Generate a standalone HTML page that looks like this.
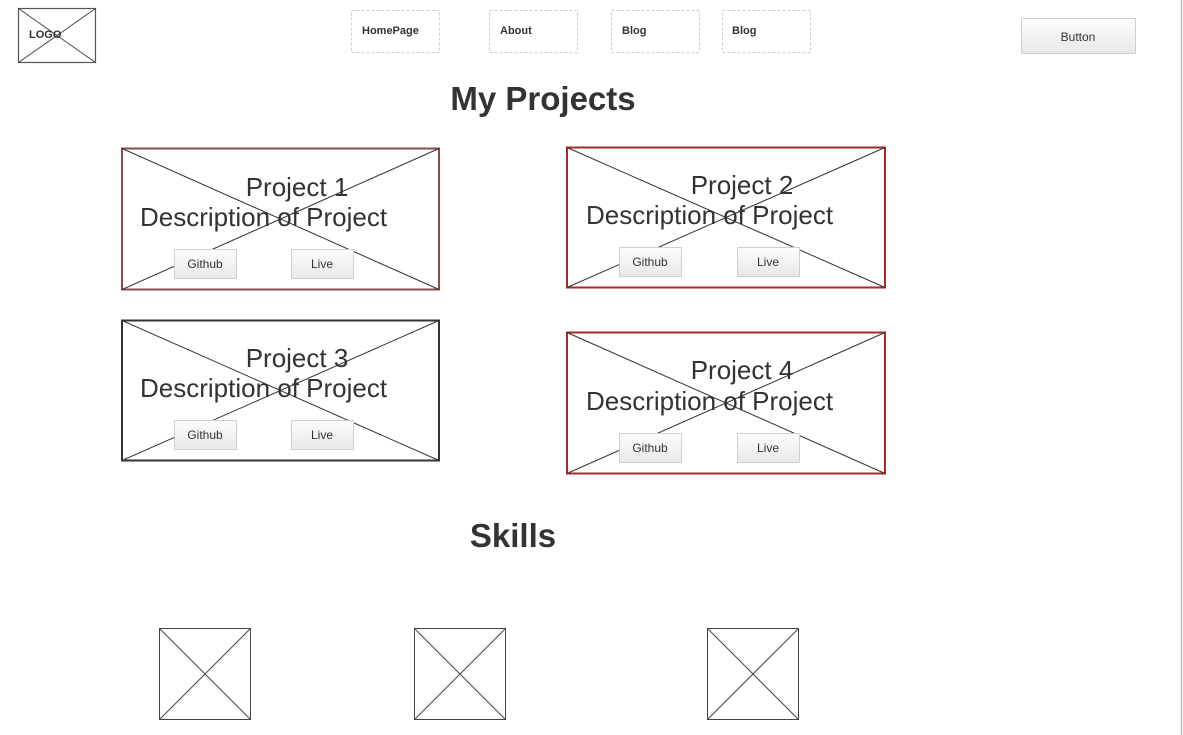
<!DOCTYPE html>
<html><head><meta charset="utf-8"><style>
html,body{margin:0;padding:0;background:#fff;width:1183px;height:735px;overflow:hidden}
svg{display:block}
text{font-family:"Liberation Sans",sans-serif;fill:#333}
</style></head><body>
<svg width="1183" height="735" viewBox="0 0 1183 735" xmlns="http://www.w3.org/2000/svg">
<defs>
<linearGradient id="bg" x1="0" y1="0" x2="0" y2="1"><stop offset="0" stop-color="#fdfdfd"/><stop offset="1" stop-color="#e8e8e8"/></linearGradient>
</defs>
<line x1="1181.5" y1="0" x2="1181.5" y2="735" stroke="#bbb" stroke-width="1.5"/>
<rect x="18.5" y="8.5" width="77" height="54" fill="#fff" stroke="#555" stroke-width="1.2"/>
<line x1="18.5" y1="8.5" x2="95.5" y2="62.5" stroke="#444"/>
<line x1="95.5" y1="8.5" x2="18.5" y2="62.5" stroke="#444"/>
<text x="29" y="38" font-size="11" font-weight="bold">LOGO</text>
<g fill="#fff" stroke="#ccc" stroke-dasharray="3,2">
<rect x="351.5" y="10.5" width="88" height="42"/>
<rect x="489.5" y="10.5" width="88" height="42"/>
<rect x="611.5" y="10.5" width="88" height="42"/>
<rect x="722.5" y="10.5" width="88" height="42"/>
</g>
<g font-size="11" font-weight="bold">
<text x="362" y="34">HomePage</text>
<text x="500" y="34">About</text>
<text x="622" y="34">Blog</text>
<text x="732" y="34">Blog</text>
</g>
<rect x="1021.5" y="18.5" width="114" height="35" fill="url(#bg)" stroke="#d0d0d0"/>
<text x="1078" y="41" font-size="12" text-anchor="middle" fill="#111">Button</text>
<text x="543" y="110" font-size="33" font-weight="bold" text-anchor="middle">My Projects</text>
<text x="513" y="547" font-size="33" font-weight="bold" text-anchor="middle">Skills</text>

<g>
<rect x="122" y="148.5" width="317" height="141" fill="#fff" stroke="#8a4a4a" stroke-width="2"/>
<line x1="122" y1="148.5" x2="439" y2="289.5" stroke="#333"/><line x1="439" y1="148.5" x2="122" y2="289.5" stroke="#333"/>
<text x="297" y="196" font-size="26" text-anchor="middle">Project 1</text>
<text x="140" y="226" font-size="26">Description of Project</text>
<rect x="174.5" y="249.5" width="62" height="29" fill="url(#bg)" stroke="#d0d0d0"/><text x="205" y="268" font-size="12" text-anchor="middle" fill="#111">Github</text>
<rect x="291.5" y="249.5" width="62" height="29" fill="url(#bg)" stroke="#d0d0d0"/><text x="322" y="268" font-size="12" text-anchor="middle" fill="#111">Live</text>
</g>
<g>
<rect x="567" y="147.5" width="318" height="140" fill="#fff" stroke="#a52a2a" stroke-width="2"/>
<line x1="567" y1="147.5" x2="885" y2="287.5" stroke="#333"/><line x1="885" y1="147.5" x2="567" y2="287.5" stroke="#333"/>
<text x="742" y="194" font-size="26" text-anchor="middle">Project 2</text>
<text x="586" y="224" font-size="26">Description of Project</text>
<rect x="619.5" y="247.5" width="62" height="29" fill="url(#bg)" stroke="#d0d0d0"/><text x="650" y="266" font-size="12" text-anchor="middle" fill="#111">Github</text>
<rect x="737.5" y="247.5" width="62" height="29" fill="url(#bg)" stroke="#d0d0d0"/><text x="768" y="266" font-size="12" text-anchor="middle" fill="#111">Live</text>
</g>
<g>
<rect x="122" y="320.5" width="317" height="140" fill="#fff" stroke="#333" stroke-width="2"/>
<line x1="122" y1="320.5" x2="439" y2="460.5" stroke="#333"/><line x1="439" y1="320.5" x2="122" y2="460.5" stroke="#333"/>
<text x="297" y="367" font-size="26" text-anchor="middle">Project 3</text>
<text x="140" y="397" font-size="26">Description of Project</text>
<rect x="174.5" y="420.5" width="62" height="29" fill="url(#bg)" stroke="#d0d0d0"/><text x="205" y="439" font-size="12" text-anchor="middle" fill="#111">Github</text>
<rect x="291.5" y="420.5" width="62" height="29" fill="url(#bg)" stroke="#d0d0d0"/><text x="322" y="439" font-size="12" text-anchor="middle" fill="#111">Live</text>
</g>
<g>
<rect x="567" y="332.5" width="318" height="141" fill="#fff" stroke="#a52a2a" stroke-width="2"/>
<line x1="567" y1="332.5" x2="885" y2="473.5" stroke="#333"/><line x1="885" y1="332.5" x2="567" y2="473.5" stroke="#333"/>
<text x="742" y="379" font-size="26" text-anchor="middle">Project 4</text>
<text x="586" y="410" font-size="26">Description of Project</text>
<rect x="619.5" y="433.5" width="62" height="29" fill="url(#bg)" stroke="#d0d0d0"/><text x="650" y="452" font-size="12" text-anchor="middle" fill="#111">Github</text>
<rect x="737.5" y="433.5" width="62" height="29" fill="url(#bg)" stroke="#d0d0d0"/><text x="768" y="452" font-size="12" text-anchor="middle" fill="#111">Live</text>
</g>

<g fill="none" stroke="#444">
<rect x="159.5" y="628.5" width="91" height="91"/><line x1="159.5" y1="628.5" x2="250.5" y2="719.5"/><line x1="250.5" y1="628.5" x2="159.5" y2="719.5"/>
<rect x="414.5" y="628.5" width="91" height="91"/><line x1="414.5" y1="628.5" x2="505.5" y2="719.5"/><line x1="505.5" y1="628.5" x2="414.5" y2="719.5"/>
<rect x="707.5" y="628.5" width="91" height="91"/><line x1="707.5" y1="628.5" x2="798.5" y2="719.5"/><line x1="798.5" y1="628.5" x2="707.5" y2="719.5"/>
</g>
</svg>
</body></html>
